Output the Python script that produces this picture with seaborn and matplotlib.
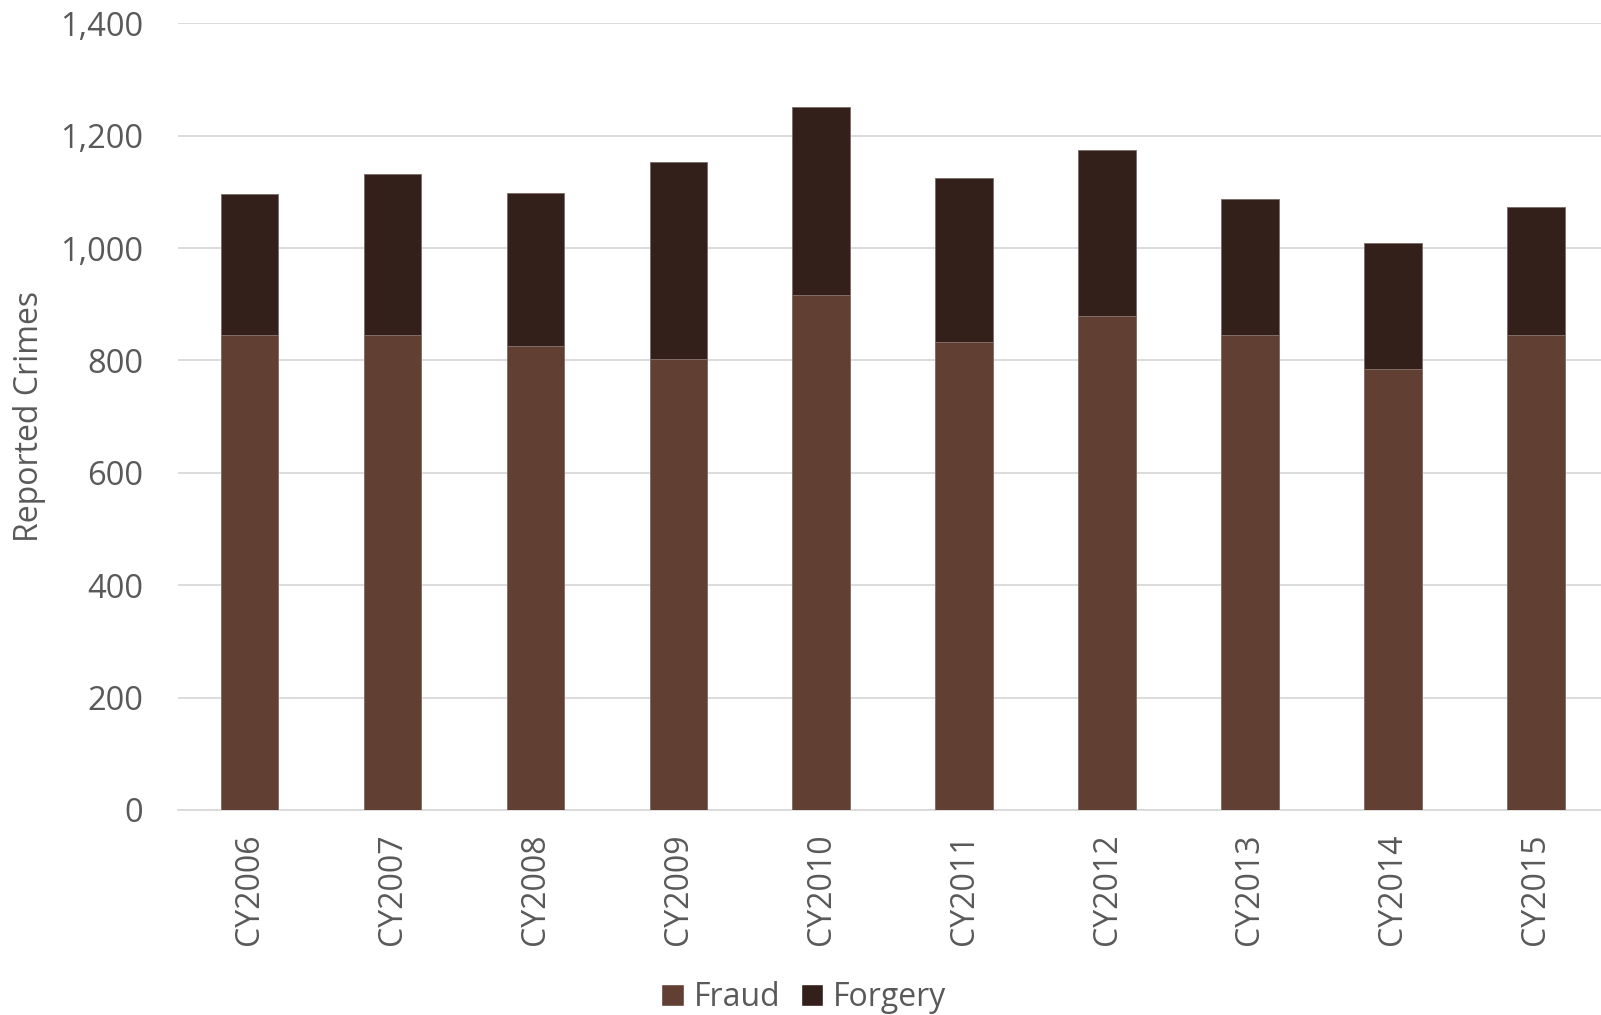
import pandas as pd
import numpy as np
import matplotlib
matplotlib.use('Agg')
import matplotlib.pyplot as plt
import seaborn as sns
from matplotlib.patches import Patch

# datos
years = ['CY2006', 'CY2007', 'CY2008', 'CY2009', 'CY2010',
         'CY2011', 'CY2012', 'CY2013', 'CY2014', 'CY2015']
fraud = [846, 846, 826, 803, 917, 833, 879, 845, 785, 845]
forgery = [250, 285, 272, 350, 335, 291, 296, 242, 224, 229]

fraud_color = '#613F33'
forgery_color = '#33201B'
text_color = '#595959'
grid_color = '#D9D9D9'

df = pd.DataFrame({'year': years, 'Fraud': fraud, 'Forgery': forgery})
df['total'] = df['Fraud'] + df['Forgery']

sns.set_theme(style='white')
plt.rcParams['font.family'] = ['Open Sans', 'DejaVu Sans']

fig = plt.figure(figsize=(16.01, 10.15), dpi=100)
ax = fig.add_axes([0.111, 0.202, 0.893, 0.775])

# barra completa (forgery arriba) y luego fraud encima desde la base
sns.barplot(data=df, x='year', y='total', color=forgery_color, width=0.4,
            saturation=1, edgecolor='#7a6a66', linewidth=0.6, ax=ax, zorder=3)
sns.barplot(data=df, x='year', y='Fraud', color=fraud_color, width=0.4,
            saturation=1, edgecolor='#8a7670', linewidth=0.6, ax=ax, zorder=4)

ax.set_ylim(0, 1400)
ax.set_xlim(-0.5, len(years) - 0.5)
ax.set_yticks(range(0, 1401, 200))
ax.yaxis.set_major_formatter(matplotlib.ticker.FuncFormatter(lambda v, p: f'{int(v):,}'))
ax.grid(axis='y', color=grid_color, linewidth=1.3, zorder=0)
ax.set_axisbelow(True)

for s in ['top', 'right', 'left']:
    ax.spines[s].set_visible(False)
ax.spines['bottom'].set_color(grid_color)
ax.spines['bottom'].set_linewidth(1.3)

ax.tick_params(axis='y', length=0, pad=25, labelsize=23.5, labelcolor=text_color)
ax.tick_params(axis='x', length=0, pad=17, labelsize=23, labelcolor=text_color, rotation=90)
ax.set_xlabel('')
ax.set_ylabel('Reported Crimes', fontsize=23, color=text_color)
ax.yaxis.set_label_coords(-0.092, 0.5)

handles = [Patch(facecolor=fraud_color, label='Fraud'),
           Patch(facecolor=forgery_color, label='Forgery')]
fig.legend(handles=handles, loc='center', bbox_to_anchor=(0.502, 0.017), ncol=2,
           frameon=False, fontsize=23, labelcolor=text_color,
           handlelength=0.7, handleheight=0.7, handletextpad=0.3, columnspacing=0.65)

fig.savefig('out.png', dpi=100)
